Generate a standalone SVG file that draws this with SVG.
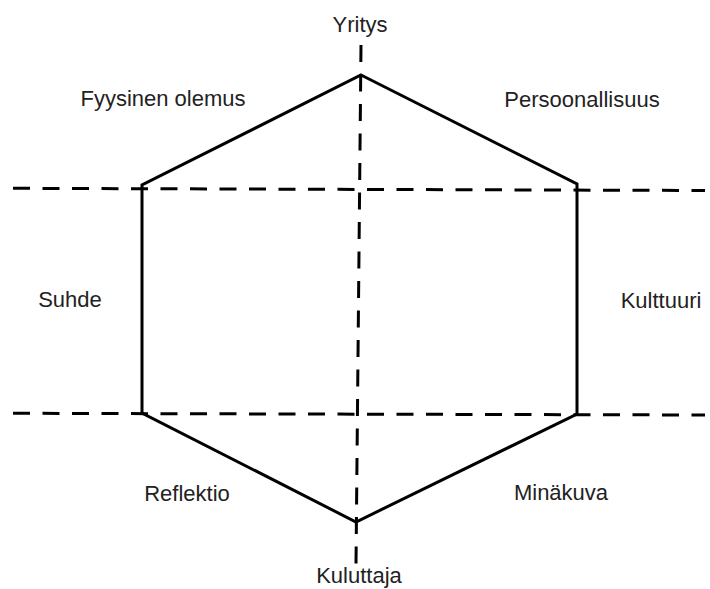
<svg xmlns="http://www.w3.org/2000/svg" width="710" height="589" viewBox="0 0 710 589">
<style>
.bg{fill:#ffffff}
.hex{fill:none;stroke:#000;stroke-width:3;stroke-linejoin:miter}
.dash{fill:none;stroke:#000;stroke-width:3;stroke-dasharray:17 12.5}
.lbl{font-family:"Liberation Sans",Arial,sans-serif;font-size:22px;fill:#222;text-anchor:middle}
</style>
<rect class="bg" x="0" y="0" width="710" height="589"/>
<g id="connectors">
<line class="dash" x1="13" y1="188.3" x2="705" y2="190.5"/>
<line class="dash" x1="13" y1="413.3" x2="705" y2="415"/>
<line class="dash" x1="361" y1="45" x2="356" y2="564"/>
</g>
<g id="hexagon">
<polygon class="hex" points="361,75 577,184 577,414 356,522 142,413 142,185"/>
</g>
<g id="yritys"><text class="lbl" x="360" y="32">Yritys</text></g>
<g id="fyysinen-olemus"><text class="lbl" x="163" y="106">Fyysinen olemus</text></g>
<g id="persoonallisuus"><text class="lbl" x="582" y="107">Persoonallisuus</text></g>
<g id="suhde"><text class="lbl" x="70" y="307">Suhde</text></g>
<g id="kulttuuri"><text class="lbl" x="661" y="308">Kulttuuri</text></g>
<g id="reflektio"><text class="lbl" x="187" y="501">Reflektio</text></g>
<g id="minakuva"><text class="lbl" x="561" y="500">Minäkuva</text></g>
<g id="kuluttaja"><text class="lbl" x="359" y="583">Kuluttaja</text></g>
</svg>
